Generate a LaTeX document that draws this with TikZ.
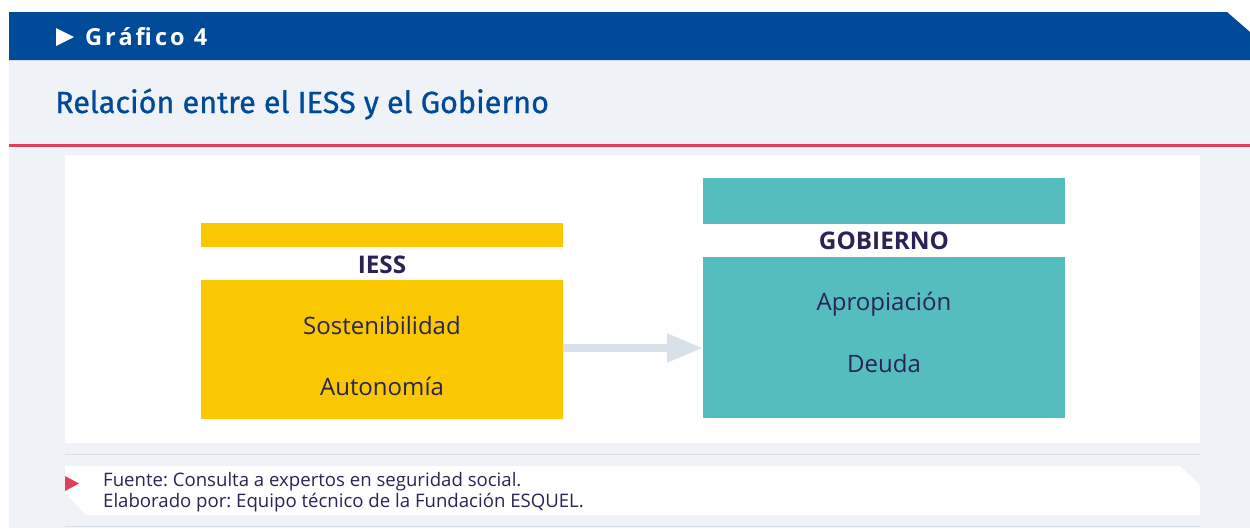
\documentclass[tikz,border=0pt]{standalone}
\usepackage{fontspec}
\setmainfont{Open Sans}
\newfontfamily\titlefont{Fira Sans}[FakeBold=0.8]
\usetikzlibrary{arrows.meta}
\frenchspacing
\definecolor{hdrblue}{HTML}{004A9A}
\definecolor{panelgray}{HTML}{EFF3F7}
\definecolor{redline}{HTML}{E0405A}
\definecolor{iessyel}{HTML}{FAC800}
\definecolor{gobteal}{HTML}{55BDBE}
\definecolor{arrowgray}{HTML}{D8E0E9}
\definecolor{rulegray}{HTML}{D5DEEA}
\definecolor{navy}{HTML}{2A2456}
\tikzset{
  boxtext/.style={font=\fontsize{24}{28}\selectfont, text=navy},
  headtext/.style={font=\fontsize{24.3}{28}\selectfont\bfseries, text=navy},
  fillbox/.style={inner sep=0pt, outer sep=0pt, draw=none},
  foottext/.style={anchor=base west, inner sep=0pt, text=navy, font=\fontsize{18.6}{22}\selectfont},
}
\begin{document}
\frenchspacing
\begin{tikzpicture}[x=1pt,y=-1pt]
\useasboundingbox (0,0) rectangle (1250,528);
\fill[white] (0,0) rectangle (1250,528);
% gray panel
\fill[panelgray] (9,60) rectangle (1250,528);
% header band with cut corner
\fill[hdrblue] (9,12) -- (1227,12) -- (1250,32) -- (1250,60) -- (9,60) -- cycle;
\fill[white] (56,28) -- (74,37) -- (56,46) -- cycle;
\node[anchor=base west, inner sep=0pt, text=white,
      font=\fontsize{23.5}{27}\selectfont\bfseries\addfontfeature{LetterSpace=13}] (grafico) at (85,45) {Gráfico 4};
% title
\node[anchor=base west, inner sep=0pt, text=hdrblue, font=\titlefont\fontsize{30.6}{36}\selectfont] (title) at (55,113) {Relación entre el IESS y el Gobierno};
% red rule
\fill[redline] (9,143.5) rectangle (1250,146.5);
% white content panel
\fill[white] (65,155) rectangle (1200,443);
% IESS
\node[fillbox, fill=iessyel, minimum width=362pt, minimum height=24pt, anchor=north west] (iesstop) at (201,223) {};
\node[fillbox, fill=iessyel, minimum width=362pt, minimum height=139pt, anchor=north west] (iess) at (201,280) {};
\node[headtext, anchor=base] (iesslbl) at (382,273) {IESS};
\node[boxtext, anchor=base] (sost) at (382,334) {Sostenibilidad};
\node[boxtext, anchor=base] (auto) at (382,395) {Autonomía};
% GOBIERNO
\node[fillbox, fill=gobteal, minimum width=362pt, minimum height=46pt, anchor=north west] (gobtop) at (703,178) {};
\node[fillbox, fill=gobteal, minimum width=362pt, minimum height=161pt, anchor=north west] (gob) at (703,257) {};
\node[headtext, anchor=base] (goblbl) at (884,249) {GOBIERNO};
\node[boxtext, anchor=base] (aprop) at (884,310) {Apropiación};
\node[boxtext, anchor=base] (deuda) at (884,372) {Deuda};
% arrow
\coordinate (astart) at (563,348);
\draw[arrowgray, line width=8pt, -{Triangle[length=36pt,width=27pt]}] (astart) -- (gob.west |- astart);
% footer
\fill[rulegray] (65,453.5) rectangle (1200,455);
\fill[white] (65,466) -- (1180,466) -- (1200,485) -- (1200,515) -- (86,515) -- (65,493) -- cycle;
\fill[redline] (65,476) -- (79,483.5) -- (65,491) -- cycle;
\node[foottext] (fuente) at (103,486) {Fuente: Consulta a expertos en seguridad social.};
\node[foottext] (elab) at (103,507) {Elaborado por: Equipo técnico de la Fundación ESQUEL.};
\fill[rulegray] (65,525.5) rectangle (1200,527);
\end{tikzpicture}
\end{document}
